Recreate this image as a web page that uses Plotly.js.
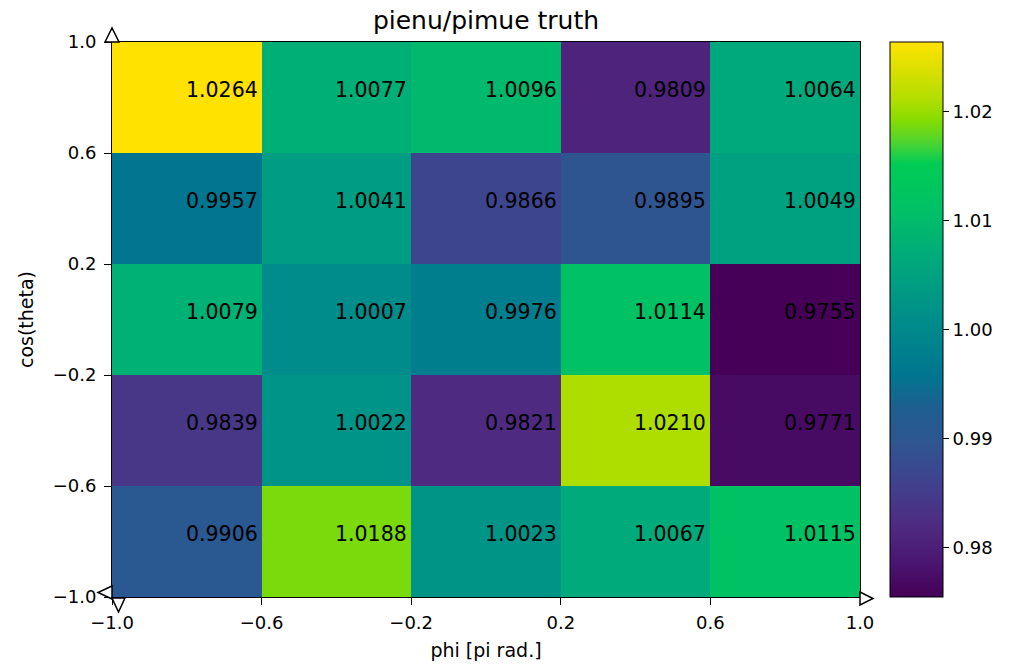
<!DOCTYPE html>
<html>
<head>
<meta charset="utf-8">
<script src="https://cdn.plot.ly/plotly-3.0.1.min.js"></script>
<style>html,body{margin:0;padding:0;background:#fff;}#chart{width:1013px;height:664px;}</style>
</head>
<body>
<div id="chart"></div>
<script>
// bin edges
const xEdges = [-1.0, -0.6, -0.2, 0.2, 0.6, 1.0];
const yEdges = [-1.0, -0.6, -0.2, 0.2, 0.6, 1.0];
const xTickText = ["\u22121.0", "\u22120.6", "\u22120.2", "0.2", "0.6", "1.0"];
const yTickText = ["\u22121.0", "\u22120.6", "\u22120.2", "0.2", "0.6", "1.0"];
// rows from bottom (cos=-1) to top (cos=1)
const row0 = [0.9906, 1.0188, 1.0023, 1.0067, 1.0115];
const row1 = [0.9839, 1.0022, 0.9821, 1.0210, 0.9771];
const row2 = [1.0079, 1.0007, 0.9976, 1.0114, 0.9755];
const row3 = [0.9957, 1.0041, 0.9866, 0.9895, 1.0049];
const row4 = [1.0264, 1.0077, 1.0096, 0.9809, 1.0064];
const zRows = [row0, row1, row2, row3, row4];
const cbTickVals = [0.98, 0.99, 1.00, 1.01, 1.02];
const cbTickText = ["0.98", "0.99", "1.00", "1.01", "1.02"];

const colorscale = [
  [0.00, '#460057'],
  [0.06, '#4a1570'],
  [0.13, '#4e2b80'],
  [0.20, '#42408e'],
  [0.28, '#2e5690'],
  [0.34, '#1f5e90'],
  [0.40, '#007690'],
  [0.50, '#008d8a'],
  [0.60, '#00a77d'],
  [0.70, '#00c166'],
  [0.78, '#00cc55'],
  [0.82, '#50d430'],
  [0.86, '#88dc00'],
  [0.90, '#b5de00'],
  [1.00, '#ffe200']
];

const zAll = zRows.flat();
const zmin = Math.min(...zAll), zmax = Math.max(...zAll);

const heat = {
  type: 'heatmap',
  x: xEdges, y: yEdges, z: zRows,
  zmin: zmin, zmax: zmax,
  colorscale: colorscale,
  xgap: 0, ygap: 0,
  hoverinfo: 'z',
  colorbar: {
    x: 1.04, xanchor: 'left', xref: 'paper',
    y: 0.5, yanchor: 'middle', len: 1, lenmode: 'fraction',
    thickness: 53, thicknessmode: 'pixels',
    outlinewidth: 1, outlinecolor: '#000',
    tickmode: 'array', tickvals: cbTickVals, ticktext: cbTickText,
    ticks: 'outside', ticklen: 6, tickwidth: 1, tickcolor: '#000',
    tickfont: {family: 'DejaVu Sans', size: 18, color: '#000'},
    xpad: 0, ypad: 0
  }
};

const annotations = [];
for (let r = 0; r < zRows.length; r++) {
  for (let c = 0; c < zRows[r].length; c++) {
    annotations.push({
      x: xEdges[c + 1], y: (yEdges[r] + yEdges[r + 1]) / 2,
      xref: 'x', yref: 'y',
      text: zRows[r][c].toFixed(4),
      showarrow: false, xanchor: 'right', yanchor: 'middle', xshift: -2, yshift: 8,
      font: {family: 'DejaVu Sans', size: 20.5, color: '#000'}
    });
  }
}

const xMin = xEdges[0], xMax = xEdges[xEdges.length - 1];
const yMin = yEdges[0], yMax = yEdges[yEdges.length - 1];
// spine-end arrow decorations, anchored at the plot-area corners (paper coords)
const tri = (xa, ya, path) => ({
  type: 'path', xref: 'paper', yref: 'paper', xsizemode: 'pixel', ysizemode: 'pixel',
  xanchor: xa, yanchor: ya, path: path, layer: 'above',
  fillcolor: '#fff', line: {color: '#000', width: 1.5}
});
const shapes = [
  tri(1, 0, 'M0,5 L13,-1.5 L0,-8 Z'),
  tri(0, 1, 'M-7,0 L0,14 L7,0 Z'),
  tri(0, 0, 'M0,11 L-14,4.5 L0,-2 Z'),
  tri(0, 0, 'M0,-1 L13,-1 L6.5,-15 Z')
];

const layout = {
  width: 1013, height: 664,
  margin: {l: 112, r: 153, t: 42, b: 67},
  paper_bgcolor: '#fff', plot_bgcolor: '#fff',
  title: {text: 'pienu/pimue truth', x: 0.5, xref: 'paper', xanchor: 'center',
          y: 1 - 20 / 664, yref: 'container', yanchor: 'middle',
          font: {family: 'DejaVu Sans', size: 25, color: '#000'}},
  xaxis: {
    range: [xMin, xMax], tickmode: 'array', tickvals: xEdges, ticktext: xTickText,
    ticks: 'outside', ticklen: 7, tickwidth: 1, tickcolor: '#000', ticklabelstandoff: 2,
    showline: true, linecolor: '#000', linewidth: 1, mirror: true,
    showgrid: false, zeroline: false,
    tickfont: {family: 'DejaVu Sans', size: 18, color: '#000'},
    title: {text: 'phi [pi rad.]', standoff: 12, font: {family: 'DejaVu Sans', size: 19, color: '#000'}}
  },
  yaxis: {
    range: [yMin, yMax], tickmode: 'array', tickvals: yEdges, ticktext: yTickText,
    ticks: 'outside', ticklen: 7, tickwidth: 1, tickcolor: '#000', ticklabelstandoff: 4,
    showline: true, linecolor: '#000', linewidth: 1, mirror: true,
    showgrid: false, zeroline: false,
    tickfont: {family: 'DejaVu Sans', size: 18, color: '#000'},
    title: {text: 'cos(theta)', standoff: 14, font: {family: 'DejaVu Sans', size: 19, color: '#000'}}
  },
  annotations: annotations,
  shapes: shapes,
  showlegend: false
};

Plotly.newPlot('chart', [heat], layout, {displayModeBar: false, staticPlot: true});
</script>
</body>
</html>
